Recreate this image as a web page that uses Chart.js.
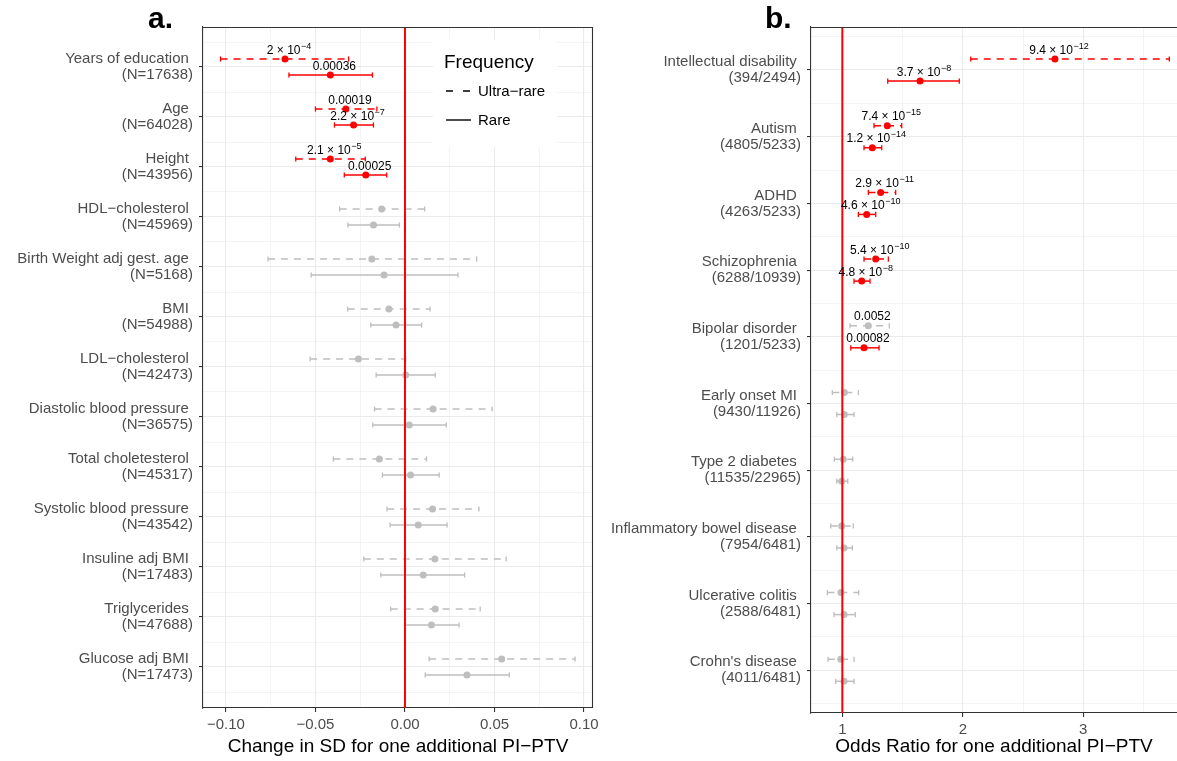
<!DOCTYPE html>
<html>
<head>
<meta charset="utf-8">
<script src="https://cdn.jsdelivr.net/npm/chart.js@4.4.0/dist/chart.umd.min.js"></script>
<style>
body { margin:0; background:#fff; width:1177px; height:761px; overflow:hidden; position:relative;
       font-family:"Liberation Sans", Arial, Helvetica, sans-serif; }
#box_a { position:absolute; left:0; top:0; width:600px; height:761px; }
#box_b { position:absolute; left:600px; top:0; width:577px; height:761px; overflow:hidden; }
.tag { position:absolute; top:3px; font-size:30px; line-height:1; font-weight:bold; color:#000; }
</style>
</head>
<body>
<div id="box_a"><canvas id="chart_a" width="600" height="761"></canvas></div>
<div id="box_b"><canvas id="chart_b" width="577" height="761"></canvas></div>
<div class="tag" style="left:148px">a.</div>
<div class="tag" style="left:765px">b.</div>
<script>

// ---------------- panel a : quantitative traits ----------------
var traits_a = ["Years of education", "Age", "Height", "HDL\u2212cholesterol", "Birth Weight adj gest. age",
                "BMI", "LDL\u2212cholesterol", "Diastolic blood pressure", "Total choletesterol",
                "Systolic blood pressure", "Insuline adj BMI", "Triglycerides", "Glucose adj BMI"];
var n_a = [17638, 64028, 43956, 45969, 5168, 54988, 42473, 36575, 45317, 43542, 17483, 47688, 17473];

var ultra_est_a = [-0.067, -0.033, -0.0417, -0.013, -0.0185, -0.009, -0.026, 0.0157, -0.0143, 0.0154, 0.0167, 0.0169, 0.054];
var ultra_lo_a  = [-0.103, -0.050, -0.061, -0.0365, -0.0765, -0.032, -0.053, -0.017, -0.040, -0.010, -0.023, -0.008, 0.0135];
var ultra_hi_a  = [-0.0315, -0.0157, -0.0222, 0.011, 0.040, 0.014, 0.0004, 0.0487, 0.012, 0.0413, 0.0565, 0.042, 0.095];
var rare_est_a  = [-0.0417, -0.0287, -0.0219, -0.0176, -0.0117, -0.005, 0.0004, 0.0024, 0.0031, 0.0074, 0.0102, 0.0148, 0.0346];
var rare_lo_a   = [-0.0648, -0.0394, -0.0339, -0.0319, -0.0524, -0.0191, -0.0161, -0.018, -0.0126, -0.0083, -0.0135, 0.0, 0.0113];
var rare_hi_a   = [-0.0182, -0.0176, -0.0102, -0.0031, 0.0296, 0.0093, 0.0169, 0.0231, 0.0191, 0.0235, 0.0333, 0.0302, 0.0583];

var ultra_p_a = ["2 \u00d7 10^-4", "0.00019", "2.1 \u00d7 10^-5"];
var rare_p_a  = ["0.00036", "2.2 \u00d7 10^-7", "0.00025"];
var ultra_sig_a = [1, 1, 1, 0, 0, 0, 0, 0, 0, 0, 0, 0, 0];
var rare_sig_a  = [1, 1, 1, 0, 0, 0, 0, 0, 0, 0, 0, 0, 0];

var xticks_a = [-0.10, -0.05, 0.00, 0.05, 0.10];
var xminor_a = [-0.075, -0.025, 0.025, 0.075];

// ---------------- panel b : disorders ----------------
var traits_b = ["Intellectual disability", "Autism", "ADHD", "Schizophrenia", "Bipolar disorder",
                "Early onset MI", "Type 2 diabetes", "Inflammatory bowel disease", "Ulcerative colitis", "Crohn's disease"];
var cases_b    = [394, 4805, 4263, 6288, 1201, 9430, 11535, 7954, 2588, 4011];
var controls_b = [2494, 5233, 5233, 10939, 5233, 11926, 22965, 6481, 6481, 6481];

var ultra_est_b = [2.765, 1.373, 1.318, 1.277, 1.216, 1.017, 1.008, 0.995, 0.989, 0.987];
var ultra_lo_b  = [2.066, 1.263, 1.216, 1.180, 1.064, 0.917, 0.934, 0.904, 0.876, 0.881];
var ultra_hi_b  = [3.714, 1.493, 1.443, 1.382, 1.390, 1.133, 1.086, 1.091, 1.136, 1.097];
var rare_est_b  = [1.645, 1.249, 1.202, 1.161, 1.180, 1.017, 0.995, 1.014, 1.014, 1.014];
var rare_lo_b   = [1.377, 1.180, 1.133, 1.097, 1.070, 0.954, 0.954, 0.954, 0.931, 0.945];
var rare_hi_b   = [1.971, 1.327, 1.277, 1.230, 1.305, 1.097, 1.045, 1.083, 1.108, 1.097];

var ultra_p_b = ["9.4 \u00d7 10^-12", "7.4 \u00d7 10^-15", "2.9 \u00d7 10^-11", "5.4 \u00d7 10^-10", "0.0052"];
var rare_p_b  = ["3.7 \u00d7 10^-8", "1.2 \u00d7 10^-14", "4.6 \u00d7 10^-10", "4.8 \u00d7 10^-8", "0.00082"];
var ultra_sig_b = [1, 1, 1, 1, 0, 0, 0, 0, 0, 0];
var rare_sig_b  = [1, 1, 1, 1, 1, 0, 0, 0, 0, 0];

var xticks_b = [1, 2, 3];
var xminor_b = [1.5, 2.5, 3.5];


var FAMILY = '"Liberation Sans", Arial, Helvetica, sans-serif';
var RED  = '#FF0000';
var GREY = '#BEBEBE';
Chart.defaults.font.family = FAMILY;


function colour_of(sig) {
    return sig ? RED : GREY;
}

// one dataset per error bar + one dataset for the dots of a series
function series_sets(est, lo, hi, sig, offset, dashed) {
    var sets = [];
    var dots = { data: [], pointBackgroundColor: [], pointBorderColor: [], pointRadius: 3.5,
                 pointBorderWidth: 0, showLine: false, order: 0 };
    for (var i = 0; i < est.length; i++) {
        var y   = i + offset;
        var col = colour_of(sig[i]);
        sets.push({
            data: [{x: lo[i], y: y}, {x: hi[i], y: y}],
            showLine: true, borderColor: col, borderWidth: 1.5,
            borderDash: dashed ? [7, 6] : [],
            pointStyle: 'line', rotation: 90, pointRadius: 2.6,
            pointBorderColor: col, pointBackgroundColor: col, pointBorderWidth: 1.3,
            order: 1
        });
        dots.data.push({x: est[i], y: y});
        dots.pointBackgroundColor.push(col);
        dots.pointBorderColor.push(col);
    }
    sets.push(dots);
    return sets;
}

function tick_builder(major, minor) {
    return function(scale) {
        var t = [];
        major.forEach(function(v) { t.push({value: v, isMajor: true}); });
        minor.forEach(function(v) { t.push({value: v, isMajor: false}); });
        t.sort(function(a, b) { return a.value - b.value; });
        scale.ticks = t;
    };
}

function grid_opts() {
    return {
        color: '#EBEBEB',
        lineWidth: function(ctx) { return ctx.tick && ctx.tick.isMajor ? 1.1 : 0.55; },
        drawTicks: true,
        tickLength: 4,
        tickWidth: 1.1,
        tickColor: function(ctx) { return ctx.tick && ctx.tick.isMajor ? '#333333' : 'rgba(0,0,0,0)'; }
    };
}

// p-value text like "2 x 10^-4" with a raised exponent
function draw_plabel(c, text, x, y) {
    var parts = text.split('^');
    var exp = parts.length > 1 ? parts[1].replace('-', '\u2212') : '';
    c.font = '12px ' + FAMILY;
    var w1 = c.measureText(parts[0]).width;
    var w2 = 0;
    if (exp) {
        c.font = '9px ' + FAMILY;
        w2 = c.measureText(exp).width + 0.5;
    }
    var left = x - (w1 + w2) / 2;
    c.textAlign = 'left';
    c.textBaseline = 'alphabetic';
    c.fillStyle = '#000';
    c.font = '12px ' + FAMILY;
    c.fillText(parts[0], left, y);
    if (exp) {
        c.font = '9px ' + FAMILY;
        c.fillText(exp, left + w1 + 0.5, y - 5);
    }
}

var overlayPlugin = {
    id: 'overlay',
    afterDatasetsDraw: function(chart, args, opts) {
        var c = chart.ctx, a = chart.chartArea;
        var xs = chart.scales.x, ys = chart.scales.y;
        c.save();
        // reference line
        var rx = xs.getPixelForValue(opts.ref);
        c.strokeStyle = RED;
        c.lineWidth = 2;
        c.beginPath();
        c.moveTo(rx, a.top);
        c.lineTo(rx, a.bottom);
        c.stroke();
        // p-value labels
        opts.labels.forEach(function(s) {
            for (var i = 0; i < s.text.length; i++) {
                if (!s.text[i]) continue;
                var px = xs.getPixelForValue(s.est[i]) + 4;
                var py = ys.getPixelForValue(i + s.offset) - 5.5;
                draw_plabel(c, s.text[i], px, py);
            }
        });
        c.restore();
    },
    afterDraw: function(chart, args, opts) {
        var c = chart.ctx, a = chart.chartArea;
        c.save();
        c.strokeStyle = '#333333';
        c.lineWidth = 1.1;
        c.beginPath();
        c.moveTo(a.left, a.top + 0.5);
        c.lineTo(a.right, a.top + 0.5);
        if (opts.rightEdge) {
            c.moveTo(a.right - 0.5, a.top);
            c.lineTo(a.right - 0.5, a.bottom);
        }
        c.stroke();

        if (opts.legend) {
            c.fillStyle = '#fff';
            c.fillRect(433, 40, 124, 107);
            c.fillStyle = '#000';
            c.textAlign = 'left';
            c.textBaseline = 'alphabetic';
            c.font = '19px ' + FAMILY;
            c.fillText('Frequency', 444, 68);
            c.font = '15px ' + FAMILY;
            c.fillText('Ultra\u2212rare', 478, 96);
            c.fillText('Rare', 478, 125);
            c.strokeStyle = '#000';
            c.lineWidth = 1.4;
            c.setLineDash([7, 10]);
            c.beginPath(); c.moveTo(446, 91); c.lineTo(471, 91); c.stroke();
            c.setLineDash([]);
            c.beginPath(); c.moveTo(446, 120); c.lineTo(471, 120); c.stroke();
        }
        c.restore();
    }
};

function make_chart(id, p) {
    var datasets = []
        .concat(series_sets(p.ultra[0], p.ultra[1], p.ultra[2], p.ultraSig, -p.dodge, true))
        .concat(series_sets(p.rare[0], p.rare[1], p.rare[2], p.rareSig, p.dodge, false));

    var majorY = p.ylabels.map(function(d, i) { return i; });
    var minorY = p.ylabels.map(function(d, i) { return i - 0.5; }).concat([p.ylabels.length - 0.5]);

    return new Chart(document.getElementById(id), {
        type: 'scatter',
        data: { datasets: datasets },
        options: {
            responsive: false,
            animation: false,
            events: [],
            layout: { padding: p.padding, autoPadding: false },
            plugins: {
                legend: { display: false },
                tooltip: { enabled: false },
                overlay: {
                    ref: p.ref,
                    rightEdge: p.rightEdge,
                    legend: p.legend,
                    labels: [
                        { est: p.ultra[0], text: p.ultraP, offset: -p.dodge },
                        { est: p.rare[0],  text: p.rareP,  offset: p.dodge }
                    ]
                }
            },
            scales: {
                x: {
                    type: 'linear', min: p.xmin, max: p.xmax,
                    afterBuildTicks: tick_builder(p.xticks, p.xminor),
                    afterFit: function(scale) {
                        scale.height = p.xAxisHeight;
                        scale.paddingLeft = 0;
                        scale.paddingRight = 0;
                    },
                    ticks: {
                        autoSkip: false, maxRotation: 0, padding: 4, color: '#4D4D4D',
                        font: { size: 15 },
                        callback: function(v, i, ticks) { return ticks[i].isMajor ? p.fmt(v) : ''; }
                    },
                    grid: grid_opts(),
                    border: { display: true, color: '#333333', width: 1.1 },
                    title: { display: true, text: p.xtitle, color: '#000', font: { size: 19 },
                             padding: { top: 0, bottom: 0 } }
                },
                y: {
                    type: 'linear', reverse: true, min: p.ymin, max: p.ymax,
                    afterBuildTicks: tick_builder(majorY, minorY),
                    afterFit: function(scale) {
                        scale.width = p.yAxisWidth;
                        scale.paddingTop = 0;
                        scale.paddingBottom = 0;
                    },
                    ticks: {
                        autoSkip: false, padding: 6, color: '#4D4D4D',
                        font: { size: 15, lineHeight: 1.07 },
                        callback: function(v, i, ticks) { return ticks[i].isMajor ? p.ylabels[Math.round(v)] : ''; }
                    },
                    grid: grid_opts(),
                    border: { display: true, color: '#333333', width: 1.1 }
                }
            }
        },
        plugins: [overlayPlugin]
    });
}

var ylabels_a = traits_a.map(function(t, i) { return [t + ' ', '(N=' + n_a[i] + ')']; });
var ylabels_b = traits_b.map(function(t, i) { return [t + ' ', '(' + cases_b[i] + '/' + controls_b[i] + ')']; });

make_chart('chart_a', {
    ylabels: ylabels_a,
    ultra: [ultra_est_a, ultra_lo_a, ultra_hi_a], ultraSig: ultra_sig_a, ultraP: ultra_p_a,
    rare:  [rare_est_a, rare_lo_a, rare_hi_a],    rareSig: rare_sig_a,   rareP: rare_p_a,
    dodge: 0.16,
    xmin: -0.1128, xmax: 0.105, ymin: -0.8, ymax: 12.82,
    xticks: xticks_a, xminor: xminor_a,
    fmt: function(v) { return v.toFixed(2).replace('-', '\u2212'); },
    xtitle: 'Change in SD for one additional PI\u2212PTV',
    ref: 0,
    padding: { left: 0, top: 27, right: 7, bottom: 3 },
    yAxisWidth: 203, xAxisHeight: 50,
    rightEdge: true, legend: true
});

make_chart('chart_b', {
    ylabels: ylabels_b,
    ultra: [ultra_est_b, ultra_lo_b, ultra_hi_b], ultraSig: ultra_sig_b, ultraP: ultra_p_b,
    rare:  [rare_est_b, rare_lo_b, rare_hi_b],    rareSig: rare_sig_b,   rareP: rare_p_b,
    dodge: 0.165,
    xmin: 0.740, xmax: 3.778, ymin: -0.645, ymax: 9.64,
    xticks: xticks_b, xminor: xminor_b,
    fmt: function(v) { return String(v); },
    xtitle: 'Odds Ratio for one additional PI\u2212PTV',
    ref: 1,
    padding: { left: 0, top: 27, right: 0, bottom: 3 },
    yAxisWidth: 211, xAxisHeight: 45,
    rightEdge: false, legend: false
});
</script>
</body>
</html>
